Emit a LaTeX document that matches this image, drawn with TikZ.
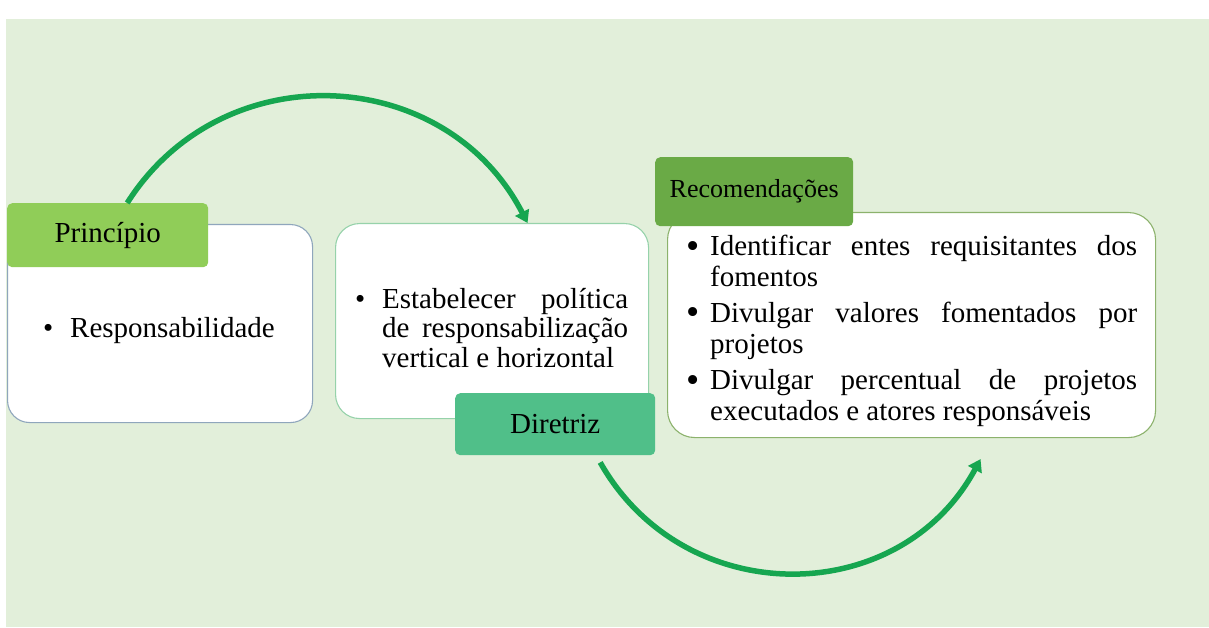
\documentclass[tikz,border=0pt]{standalone}
\usepackage{fontspec}
\setmainfont{Liberation Serif}
\usetikzlibrary{arrows.meta,calc}

\definecolor{panel}{HTML}{E2EFDA}
\definecolor{flowgreen}{HTML}{16A650}
\definecolor{tagprincipio}{HTML}{90CD58}
\definecolor{tagdiretriz}{HTML}{50BF89}
\definecolor{tagrecom}{HTML}{6AAA46}
\definecolor{edgeblue}{HTML}{8FA6BC}
\definecolor{edgemint}{HTML}{96D2AA}
\definecolor{edgeolive}{HTML}{8CB26C}

% one bulleted paragraph with a hanging indent
\newcommand{\bulletpar}[3]{\par\noindent\hangindent=#1\hangafter=1\makebox[#1][l]{#2}#3\par}
\newcommand{\bigdot}{\raisebox{-3pt}{\scalebox{1.3}{\textbullet}}}

\tikzset{
  card/.style={fill=white, line width=1.1pt, inner sep=0pt, anchor=north west},
  tag/.style={rounded corners=5pt, inner sep=0pt, anchor=north west, text=black,
    font=\fontsize{29}{30}\selectfont},
  body/.style={inner sep=0pt, anchor=base west, text=black},
  flow/.style={draw=flowgreen, line width=5.5pt, -{Triangle[length=12pt,width=15pt]}},
}

\begin{document}
\begin{tikzpicture}[x=1pt,y=-1pt]
\useasboundingbox (0,0) rectangle (1209,628);
\fill[panel] (6,19) rectangle (1209,627);

% Princípio
\node[card, draw=edgeblue, rounded corners=22pt, minimum width=305pt, minimum height=198pt]
  (pbox) at (7,224) {};
\node[tag, fill=tagprincipio, minimum width=201pt, minimum height=64pt]
  (ptag) at (7,203) {Princípio};
\node[body, font=\fontsize{29}{30}\selectfont] (ptext) at (43,337)
  {\makebox[27pt][l]{\textbullet}Responsabilidade};

% Diretriz
\node[card, draw=edgemint, rounded corners=24pt, minimum width=313pt, minimum height=195pt]
  (dbox) at (335,223) {};
\node[body] (dtext) at (355,308) {%
  \begin{minipage}[t]{273pt}
  \fontsize{29}{29.6}\selectfont\hbadness=10000
  \bulletpar{27pt}{\textbullet}{Estabelecer política\linebreak de responsabilização\linebreak vertical e horizontal}
  \end{minipage}};
\node[tag, fill=tagdiretriz, minimum width=200pt, minimum height=62pt]
  (dtag) at (455,393) {Diretriz};

% Recomendações
\node[card, draw=edgeolive, rounded corners=27pt, minimum width=488pt, minimum height=225pt]
  (rbox) at (667,212) {};
\node[tag, fill=tagrecom, minimum width=198pt, minimum height=69pt,
  font=\fontsize{26}{28}\selectfont]
  (rtag) at (655,157) {Recomendações};
\node[body] (rtext) at (686,255) {%
  \begin{minipage}[t]{451pt}
  \fontsize{29}{31}\selectfont\hbadness=10000\parskip=5pt
  \bulletpar{24pt}{\bigdot}{Identificar entes requisitantes dos\linebreak fomentos}
  \bulletpar{24pt}{\bigdot}{Divulgar valores fomentados por\linebreak projetos}
  \bulletpar{24pt}{\bigdot}{Divulgar percentual de projetos\linebreak executados e atores responsáveis}
  \end{minipage}};

% connectors
\coordinate (ptagtop) at ($(ptag.north)+(19.5,0)$);
\coordinate (dboxtop) at ($(dbox.north)+(35.5,0)$);
\coordinate (dtagbot) at ($(dtag.south)+(45,7)$);
\coordinate (rboxbelow) at ($(rbox.south)+(69,21)$);

\draw[flow] (ptagtop) .. controls +(95.6,-150.7) and +(-81.8,-158.5) .. (dboxtop);
\draw[flow] (dtagbot) .. controls +(84.1,148.7) and +(-81.0,150.3) .. (rboxbelow);
\end{tikzpicture}
\end{document}
